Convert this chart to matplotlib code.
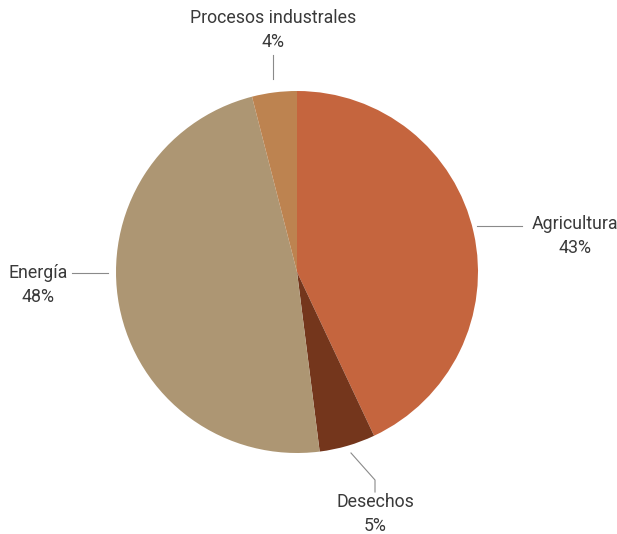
import matplotlib
matplotlib.use("Agg")
import matplotlib.pyplot as plt

categories = ["Agricultura", "Desechos", "Energía", "Procesos industrales"]
values = [43, 5, 48, 4]
colors = ["#C5653E", "#74361C", "#AD9673", "#BD8350"]

W, H = 617, 534
fig = plt.figure(figsize=(W / 100, H / 100), dpi=100)
ax = fig.add_axes([0, 0, 1, 1])

cx, cy, r = 297, H - 272, 181
ax.pie(values, colors=colors, startangle=90, counterclock=False,
       center=(cx, cy), radius=r, frame=True,
       wedgeprops=dict(linewidth=0))
ax.set_xlim(0, W)
ax.set_ylim(0, H)
ax.set_aspect("equal")
ax.axis("off")

fam = ["Roboto", "Open Sans", "DejaVu Sans"]
tc = "#3a3a3a"
lc = "#8a8a8a"
fs = 12.8

def label(txt, pct, x, y, ha="center"):
    ax.text(x, H - y, f"{txt}\n{pct}%", ha=ha, va="center", fontsize=fs,
            color=tc, family=fam, linespacing=1.42)

# Agricultura
ax.plot([477, 522], [H - 226, H - 226], color=lc, lw=0.8)
label(categories[0], values[0], 575, 236)
# Desechos
ax.plot([351, 375, 375], [H - 453, H - 480, H - 492], color=lc, lw=0.8)
label(categories[1], values[1], 375, 514)
# Energía
ax.plot([72, 108], [H - 273, H - 273], color=lc, lw=0.8)
label(categories[2], values[2], 38, 285)
# Procesos industrales
ax.plot([273, 273], [H - 55, H - 79], color=lc, lw=0.8)
label(categories[3], values[3], 273, 30)

fig.savefig("out.png", dpi=100)
